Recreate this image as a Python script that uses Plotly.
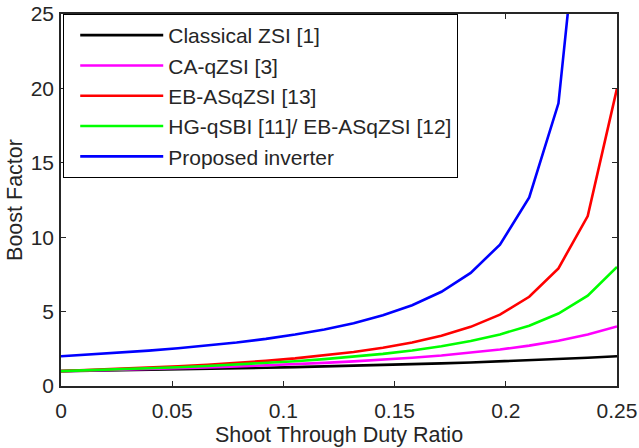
import plotly.graph_objects as go

duty = [0.0, 0.01316, 0.02632, 0.03947, 0.05263, 0.06579, 0.07895, 0.09211,
        0.10526, 0.11842, 0.13158, 0.14474, 0.15789, 0.17105, 0.18421,
        0.19737, 0.21053, 0.22368, 0.23684, 0.25]

classical_zsi = [1.0, 1.027, 1.056, 1.086, 1.118, 1.152, 1.188, 1.226, 1.267, 1.310,
                 1.357, 1.407, 1.462, 1.520, 1.583, 1.652, 1.727, 1.810, 1.900, 2.0]
ca_qzsi = [1.0, 1.041, 1.086, 1.134, 1.188, 1.246, 1.310, 1.382, 1.462, 1.551,
           1.652, 1.767, 1.900, 2.054, 2.235, 2.452, 2.714, 3.040, 3.455, 4.0]
eb_asqzsi_13 = [1.0, 1.067, 1.141, 1.224, 1.318, 1.425, 1.548, 1.690, 1.855, 2.051,
                2.285, 2.570, 2.925, 3.379, 3.976, 4.797, 5.997, 7.908, 11.42, 20.0]
hg_qsbi = [1.0, 1.055, 1.116, 1.183, 1.258, 1.341, 1.435, 1.542, 1.664, 1.804,
           1.967, 2.160, 2.391, 2.672, 3.021, 3.467, 4.056, 4.870, 6.067, 8.0]
proposed = [2.0, 2.111, 2.235, 2.375, 2.533, 2.714, 2.923, 3.167, 3.455, 3.8,
            4.222, 4.75, 5.429, 6.333, 7.6, 9.5, 12.67, 19.0, 38.0, None]

names = ["Classical ZSI [1]", "CA-qZSI [3]", "EB-ASqZSI [13]",
         "HG-qSBI [11]/ EB-ASqZSI [12]", "Proposed inverter"]
series = [classical_zsi, ca_qzsi, eb_asqzsi_13, hg_qsbi, proposed]
colors = ["#000000", "#ff00ff", "#ff0000", "#00ff00", "#0000ff"]

x_ticks = [0, 0.05, 0.1, 0.15, 0.2, 0.25]
x_ticktext = ["0", "0.05", "0.1", "0.15", "0.2", "0.25"]
y_ticks = [0, 5, 10, 15, 20, 25]

fig = go.Figure()
for i, (nm, ys, c) in enumerate(zip(names, series, colors)):
    fig.add_trace(go.Scatter(x=duty, y=ys, mode="lines", name=nm,
                             line=dict(color=c, width=2.6),
                             legendgroup=str(i), cliponaxis=True))

font_family = "Arial, Liberation Sans, sans-serif"
fs = 21
axis_common = dict(showgrid=False, zeroline=False, ticks="inside", ticklen=5,
                   tickwidth=1.2, tickcolor="#262626", showline=True,
                   linecolor="#262626", linewidth=1.6, mirror="ticks",
                   automargin=False,
                   tickfont=dict(family=font_family, size=fs, color="#262626"))

fig.update_layout(
    width=639, height=448,
    margin=dict(l=61, r=22, t=14, b=62),
    paper_bgcolor="white", plot_bgcolor="white",
    font=dict(family=font_family, size=fs, color="#262626"),
    xaxis=dict(range=[0, 0.25], tickvals=x_ticks, ticktext=x_ticktext,
               ticklabelstandoff=5,
               title=dict(text="Shoot Through Duty Ratio", standoff=6,
                          font=dict(size=21.5, color="#262626")),
               **axis_common),
    yaxis=dict(range=[0, 25], tickvals=y_ticks, ticklabelstandoff=1,
               title=dict(text="Boost Factor", standoff=2,
                          font=dict(size=21.5, color="#262626")),
               **axis_common),
    legend=dict(x=0.004, y=1.0, xanchor="left", yanchor="top",
                bgcolor="white", bordercolor="#000000", borderwidth=1,
                font=dict(family=font_family, size=fs, color="#262626"),
                itemwidth=83, tracegroupgap=0, traceorder="normal",
                indentation=11),
    showlegend=True,
)

fig.write_html("out.html")
